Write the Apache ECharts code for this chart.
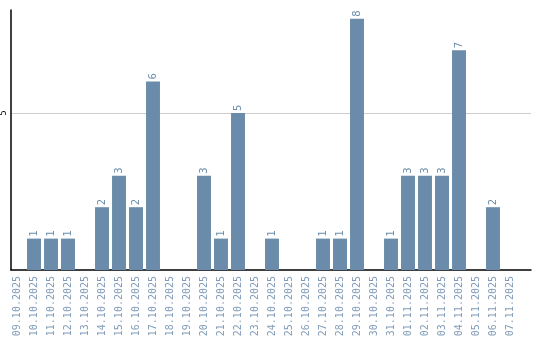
<!DOCTYPE html>
<html><head><meta charset="utf-8">
<script src="https://cdn.jsdelivr.net/npm/echarts@6/dist/echarts.min.js"></script>
<style>html,body{margin:0;padding:0;background:#fff}#c{width:540px;height:340px}</style>
</head><body><div id="c"></div>
<script>
var categories = ['09.10.2025','10.10.2025','11.10.2025','12.10.2025','13.10.2025','14.10.2025','15.10.2025','16.10.2025','17.10.2025','18.10.2025','19.10.2025','20.10.2025','21.10.2025','22.10.2025','23.10.2025','24.10.2025','25.10.2025','26.10.2025','27.10.2025','28.10.2025','29.10.2025','30.10.2025','31.10.2025','01.11.2025','02.11.2025','03.11.2025','04.11.2025','05.11.2025','06.11.2025','07.11.2025'];
var values = [0,1,1,1,0,2,3,2,6,0,0,3,1,5,0,1,0,0,1,1,8,0,1,3,3,3,7,0,2,0];
var yMax = 8.28;
var yInterval = 5;

var chart = echarts.init(document.getElementById('c'), null, {renderer:'canvas'});
chart.setOption({
  animation:false,
  grid:[
    {left:10, right:9, top:10, bottom:70, containLabel:false},
    {left:8.5, right:21.5, top:10, bottom:70, containLabel:false}
  ],
  xAxis:[
    {gridIndex:0, type:'value', min:0, max:1, axisLine:{show:true, onZero:false, lineStyle:{color:'#000', width:1.5}},
      axisTick:{show:false}, axisLabel:{show:false}, splitLine:{show:false}},
    {gridIndex:1, type:'category', data:categories, boundaryGap:true,
      axisLine:{show:false}, axisTick:{show:false},
      axisLabel:{rotate:90, interval:0, color:'#819cb8', fontFamily:'DejaVu Sans Mono', fontSize:10, margin:6}}
  ],
  yAxis:[
    {gridIndex:0, type:'value', min:0, max:yMax, interval:yInterval,
      axisLine:{show:true, onZero:false, lineStyle:{color:'#000', width:1.5}}, axisTick:{show:false},
      splitLine:{show:true, showMinLine:false, showMaxLine:false, lineStyle:{color:'#cccccc', width:1}},
      axisLabel:{rotate:90, color:'#000', fontFamily:'DejaVu Sans', fontSize:8, margin:3, showMaxLabel:false,
        formatter:function(v){return v===yInterval?String(v):'';}}},
    {gridIndex:1, type:'value', min:0, max:yMax, interval:yInterval, show:false}
  ],
  series:[{type:'bar', xAxisIndex:1, yAxisIndex:1, data:values.map(function(v){return v===0?null:v;}), barCategoryGap:'18%',
    itemStyle:{color:'#6a8caa'}, z:5,
    label:{show:true, position:'top', rotate:90, align:'left', verticalAlign:'middle', distance:2,
      color:'#6a8caa', fontFamily:'DejaVu Sans', fontSize:10}}]
});
</script></body></html>
